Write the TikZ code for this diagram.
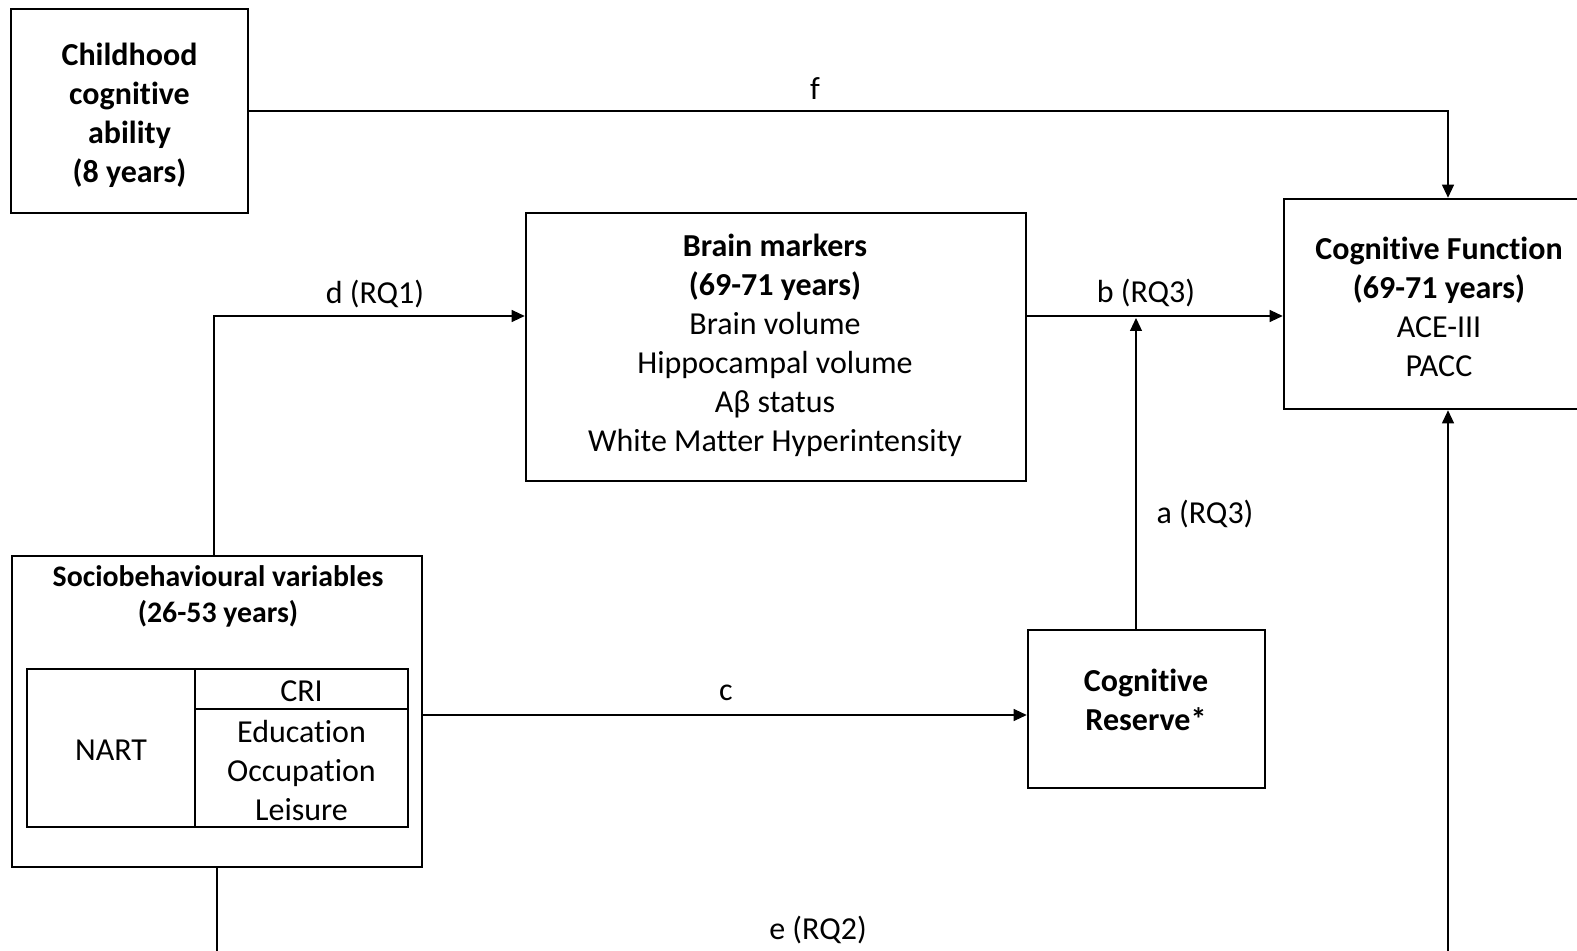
\documentclass[tikz,border=0pt]{standalone}
\usepackage{fontspec}
\setmainfont[Ligatures=NoCommon]{Carlito}
\usetikzlibrary{arrows.meta}
\begin{document}
\begin{tikzpicture}[x=0.5pt,y=-0.5pt,
  every node/.style={font=\fontsize{16}{19.5}\selectfont, inner sep=0pt, align=center},
  box/.style={draw, line width=1.3pt, rectangle},
  cell/.style={draw, line width=1.1pt, rectangle},
  arr/.style={line width=0.55pt, -{Triangle[length=6.5pt,width=6pt]}},
  lbl/.style={}]
\useasboundingbox (0,0) rectangle (1577,951);
\clip (0,0) rectangle (1577,951);

% boxes
\node[box, minimum width=118.5pt, minimum height=102pt] (ch) at (129.5,111) {};
\node (chtxt) at (129.5,115)
  {\bfseries Childhood\\ \bfseries cognitive\\ \bfseries ability\\ \bfseries (8 years)};
\node[box, minimum width=250pt, minimum height=134pt] (bm) at (776,347) {};
\node (bmtxt) at (775,345.5) {\bfseries Brain markers\\ \bfseries (69-71 years)\\ Brain volume\\ Hippocampal volume\\ Aβ status\\ White Matter Hyperintensity};
\node[box, minimum width=155pt, minimum height=105pt] (cf) at (1439,304) {};
\node (cftxt) at (1439,306.5)
  {\bfseries Cognitive Function\\ \bfseries (69-71 years)\\ ACE-III\\ PACC};
\node[box, minimum width=118.5pt, minimum height=79pt] (cr) at (1146.5,709) {};
\node (crtxt) at (1146,700) {\bfseries Cognitive\\ \bfseries Reserve*};

% sociobehavioural block with its inner table
\node[box, minimum width=205pt, minimum height=155.5pt] (sb) at (217,711.5) {};
\node[font=\fontsize{14.9}{18}\selectfont] (sbtxt) at (218,596)
  {\bfseries Sociobehavioural variables\\ \bfseries (26-53 years)};
\node[cell, minimum width=84pt, minimum height=79pt] (nart) at (111,748) {};
\node (narttxt) at (111,750) {NART};
\node[cell, minimum width=106.5pt, minimum height=20pt] (cri) at (301.5,689) {};
\node (critxt) at (301.5,691) {CRI};
\node[cell, minimum width=106.5pt, minimum height=59pt] (act) at (301.5,768) {};
\node (acttxt) at (301.5,770.5) {Education\\ Occupation\\ Leisure};

% connectors
\coordinate (bline) at ([yshift=15.5pt]bm.east);
\coordinate (aStart) at ([xshift=-5.25pt]cr.north);
\coordinate (cStart) at ([yshift=-1.75pt]sb.east);

\draw[arr] (ch.east) -| ([xshift=4.5pt]cf.north);
\draw[arr] ([xshift=-1.5pt]sb.north) |- ([yshift=15.5pt]bm.west);
\draw[arr] (bline) -- (bline -| cf.west);
\draw[arr] (aStart) -- ([yshift=-1pt]aStart |- bline);
\draw[arr] (cStart) -- (cStart -| cr.west);
\draw[arr] (sb.south) -- ++(0,120) -| ([xshift=4.5pt]cf.south);

% path labels
\node[lbl] (lf) at (815,89) {f};
\node[lbl] (ld) at (375,294) {d (RQ1)};
\node[lbl] (lb) at (1146,293) {b (RQ3)};
\node[lbl] (la) at (1205,514) {a (RQ3)};
\node[lbl] (lc) at (726,693) {c};
\node[lbl] (le) at (818,930) {e (RQ2)};
\end{tikzpicture}
\end{document}
